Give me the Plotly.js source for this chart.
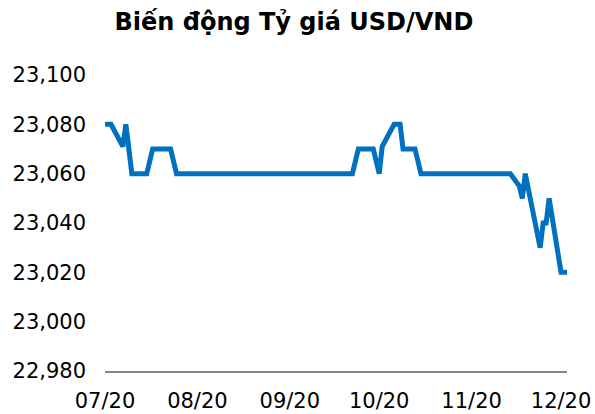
<!DOCTYPE html>
<html>
<head>
<meta charset="utf-8">
<script src="https://cdn.plot.ly/plotly-3.0.1.min.js"></script>
<style>html,body{margin:0;padding:0;background:#fff;}#chart{width:595px;height:414px;}</style>
</head>
<body>
<div id="chart"></div>
<script>
const dates = [
  "2020-07-01","2020-07-03","2020-07-07","2020-07-08","2020-07-10","2020-07-15","2020-07-17","2020-07-23","2020-07-25",
  "2020-09-22","2020-09-24","2020-09-29","2020-10-01","2020-10-02","2020-10-06","2020-10-08","2020-10-09","2020-10-13","2020-10-15",
  "2020-11-14","2020-11-17","2020-11-18","2020-11-19","2020-11-24","2020-11-25","2020-11-26","2020-11-27","2020-12-01","2020-12-03"
];
const rates = [
  23080,23080,23071,23080,23060,23060,23070,23070,23060,
  23060,23070,23070,23060,23071,23080,23080,23070,23070,23060,
  23060,23055,23050,23060,23030,23040,23040,23050,23020,23020
];
const tickDates = ["2020-07-01","2020-08-01","2020-09-01","2020-10-01","2020-11-01","2020-12-01"];
const tickLabels = ["07/20","08/20","09/20","10/20","11/20","12/20"];
const chartTitle = "Biến động Tỷ giá USD/VND";

const trace = {
  x: dates, y: rates, type: "scatter", mode: "lines",
  line: {color: "#0070C0", width: 5}
};
const layout = {
  width: 595, height: 414,
  margin: {l: 105, r: 28, t: 75, b: 43},
  paper_bgcolor: "#fff", plot_bgcolor: "#fff",
  font: {family: "DejaVu Sans, Verdana, sans-serif", size: 21, color: "#000"},
  title: {text: "<b>" + chartTitle + "</b>", x: 0.494, xanchor: "center", y: 0.947, yanchor: "middle",
          font: {family: "DejaVu Sans, sans-serif", size: 24, color: "#000"}},
  showlegend: false,
  xaxis: {
    type: "date", range: ["2020-07-01", "2020-12-03"],
    tickvals: tickDates, ticktext: tickLabels,
    showgrid: false, zeroline: false, showline: true, linecolor: "#868686", linewidth: 2,
    ticks: "", ticklabelstandoff: 10, fixedrange: true
  },
  yaxis: {
    range: [22980, 23100], dtick: 20, tick0: 22980, tickformat: ",d",
    showgrid: false, zeroline: false, showline: false, ticks: "", ticklabelstandoff: 18, fixedrange: true
  }
};
Plotly.newPlot("chart", [trace], layout, {staticPlot: true, displayModeBar: false});
</script>
</body>
</html>
